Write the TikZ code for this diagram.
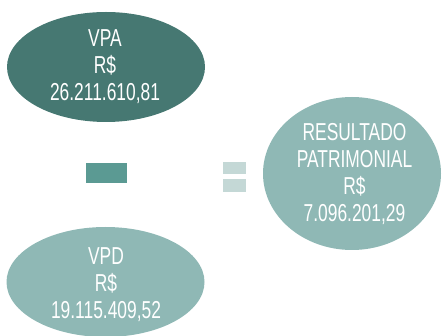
\documentclass[tikz,border=0pt]{standalone}
\usepackage{fontspec}
\setmainfont[FakeStretch=0.71]{Liberation Sans}
\usetikzlibrary{shapes.geometric}
\definecolor{darkteal}{HTML}{467872}
\definecolor{midteal}{HTML}{5B9A93}
\definecolor{lightteal}{HTML}{8FB8B5}
\definecolor{paleteal}{HTML}{C4D8D6}
\tikzset{
  blob/.style={ellipse, inner sep=0pt, draw=none},
  lbl/.style={text=white, align=center, inner sep=0pt, font=\fontsize{24.5}{27}\selectfont},
  bar/.style={inner sep=0pt, draw=none, rectangle}
}
\begin{document}
\begin{tikzpicture}[x=1pt,y=-1pt]
\useasboundingbox (0,0) rectangle (445,336);
\node[blob, fill=darkteal, minimum width=198pt, minimum height=110pt] (vpa) at (106,67) {};
\node[lbl] (vpat) at (105,66.5) {VPA\\R\$\\26.211.610,81};
\node[blob, fill=lightteal, minimum width=198pt, minimum height=110pt] (vpd) at (105.5,282) {};
\node[lbl] (vpdt) at (106,285) {VPD\\R\$\\19.115.409,52};
\node[blob, fill=lightteal, minimum width=178pt, minimum height=153pt] (res) at (352,173.5) {};
\node[lbl] (rest) at (354.5,174.5) {RESULTADO\\PATRIMONIAL\\R\$\\7.096.201,29};
\node[bar, fill=midteal, minimum width=41pt, minimum height=20pt] (minus) at (106.5,173) {};
\node[bar, fill=paleteal, minimum width=23pt, minimum height=12pt] (eqa) at (234.5,168) {};
\node[bar, fill=paleteal, minimum width=23pt, minimum height=13pt] (eqb) at (234.5,185.5) {};
\end{tikzpicture}
\end{document}
